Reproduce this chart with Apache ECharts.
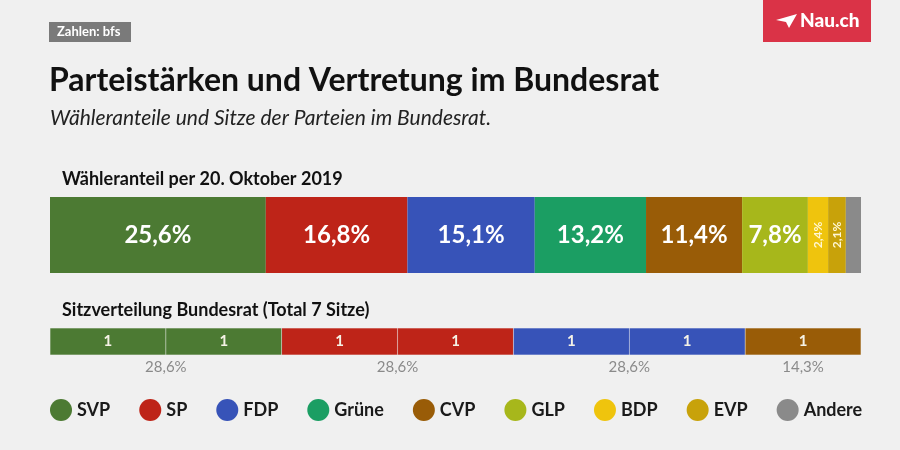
<!DOCTYPE html>
<html><head><meta charset="utf-8">
<script src="https://cdn.jsdelivr.net/npm/echarts@6/dist/echarts.min.js"></script>
<style>html,body{margin:0;padding:0;background:#f0f0f0}#c{width:900px;height:450px}</style>
</head><body><div id="c"></div>
<script>
const parties = ['SVP','SP','FDP','Grüne','CVP','GLP','BDP','EVP','Andere'];
const voteShare = [25.6,16.8,15.1,13.2,11.4,7.8,2.4,2.1,1.8];
const seats = [2,2,2,0,1,0,0,0,0];
const seatShareLabels = ['28,6%','28,6%','28,6%','','14,3%','','','',''];
const colors = ['#4c7a33','#be2418','#3753b8','#1b9e63','#995c07','#a7b71b','#efc40d','#c8a20a','#8a8a8a'];
const showVoteLabel = [true,true,true,true,true,true,true,true,false];
const smallLabel = [false,false,false,false,false,false,true,true,false];

const chart = echarts.init(document.getElementById('c'), null, {renderer:'canvas'});
const fmt = v => String(v).replace('.', ',') + '%';
const totalVote = voteShare.reduce((a,b)=>a+b,0);
const totalSeats = seats.reduce((a,b)=>a+b,0);

const series = [];
parties.forEach((p,i)=>{
  series.push({
    name:p, type:'bar', stack:'votes', xAxisIndex:0, yAxisIndex:0,
    barWidth:76, data:[voteShare[i]], itemStyle:{color:colors[i]},
    label:{show:showVoteLabel[i], position:'inside',
      rotate: smallLabel[i] ? 90 : 0,
      formatter: ()=>fmt(voteShare[i]),
      color: smallLabel[i] ? '#fff7d6' : '#ffffff',
      fontFamily:'Lato', fontWeight:'bold', fontSize: smallLabel[i] ? 12 : 24},
    emphasis:{disabled:true}, silent:true
  });
});
parties.forEach((p,i)=>{
  for(let k=0;k<seats[i];k++){
    series.push({
      name:p+'_seat'+k, type:'bar', stack:'seats', xAxisIndex:1, yAxisIndex:1,
      barWidth:27, data:[1],
      itemStyle:{color:colors[i], borderColor:'rgba(255,255,255,0.15)', borderWidth:0.5},
      label:{show:true, position:'inside', formatter:'1', color:'#f5f2e6',
        fontFamily:'Lato', fontWeight:'bold', fontSize:15},
      emphasis:{disabled:true}, silent:true
    });
  }
});

const baseGraphic = [
  {type:'rect', shape:{x:49,y:22,width:82,height:20}, style:{fill:'#7a7a7a'}},
  {type:'text', x:57, y:32, style:{text:'Zahlen: bfs', fill:'#ffffff', font:'bold 13px Lato', verticalAlign:'middle'}},
  {type:'rect', shape:{x:763,y:0,width:108,height:42}, style:{fill:'#da3347'}},
  {type:'polygon', shape:{points:[[776,20],[797,14],[789,28],[786,22]]}, style:{fill:'#ffffff'}},
  {type:'text', x:800, y:21, style:{text:'Nau.ch', fill:'#ffffff', font:'900 19px Lato', verticalAlign:'middle'}},
  {type:'text', x:49, y:81, style:{text:'Parteistärken und Vertretung im Bundesrat', fill:'#111111', font:'bold 32px Lato', verticalAlign:'middle'}},
  {type:'text', x:50, y:118, style:{text:'Wähleranteile und Sitze der Parteien im Bundesrat.', fill:'#222222', font:'italic 21px Lato', verticalAlign:'middle'}},
  {type:'text', x:62, y:179, style:{text:'Wähleranteil per 20. Oktober 2019', fill:'#111111', font:'bold 18px Lato', verticalAlign:'middle'}},
  {type:'text', x:62, y:310, style:{text:'Sitzverteilung Bundesrat (Total 7 Sitze)', fill:'#111111', font:'bold 18px Lato', verticalAlign:'middle'}}
];

chart.setOption({
  backgroundColor:'#f0f0f0',
  animation:false,
  grid:[
    {left:50, right:39, top:197, height:76},
    {left:50, right:39, top:328, height:27}
  ],
  xAxis:[
    {type:'value', gridIndex:0, min:0, max:totalVote, show:false},
    {type:'value', gridIndex:1, min:0, max:totalSeats, show:false}
  ],
  yAxis:[
    {type:'category', gridIndex:0, data:['Wähleranteil'], show:false},
    {type:'category', gridIndex:1, data:['Sitze'], show:false}
  ],
  legend:{
    data:parties, left:45, top:394, icon:'circle', itemWidth:22, itemHeight:22, itemGap:29,
    textStyle:{fontFamily:'Lato', fontWeight:'bold', fontSize:18, color:'#1a1a1a'},
    selectedMode:false
  },
  series:series,
  graphic:baseGraphic
});

// seat-share labels centred under each party's seat group
const extra = [];
let cum = 0;
parties.forEach((p,i)=>{
  if(seats[i]>0){
    const pt = chart.convertToPixel({gridIndex:1}, [cum + seats[i]/2, 0]);
    extra.push({type:'text', x:pt[0], y:367, style:{text:seatShareLabels[i], fill:'#8a8a8a', font:'15px Lato', align:'center', verticalAlign:'middle'}});
    cum += seats[i];
  }
});
chart.setOption({graphic: baseGraphic.concat(extra)});
</script></body></html>
